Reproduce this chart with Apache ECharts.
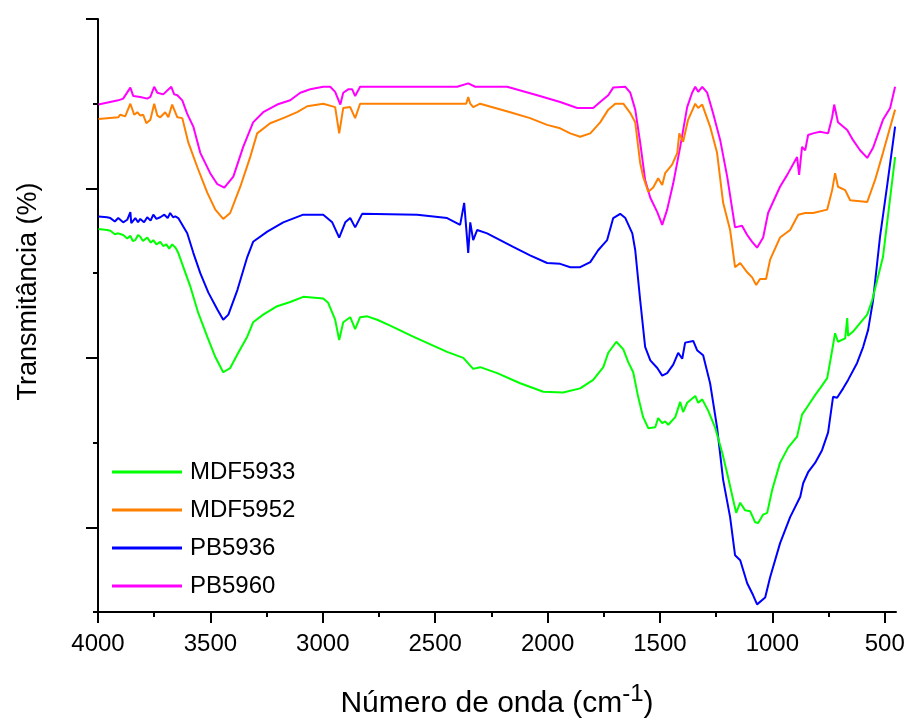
<!DOCTYPE html>
<html>
<head>
<meta charset="utf-8">
<script src="https://cdn.jsdelivr.net/npm/echarts@6/dist/echarts.min.js"></script>
<style>html,body{margin:0;padding:0;background:#fff;overflow:hidden}#c{width:908px;height:718px}</style>
</head>
<body>
<div id="c"></div>
<script>
// Series names (legend order)
const seriesNames = ['MDF5933', 'MDF5952', 'PB5936', 'PB5960'];
const seriesColors = ['#00ff00', '#ff8000', '#0000ff', '#ff00ff'];

// X axis tick labels (wavenumber, cm-1)
const xMajorTicks = [4000, 3500, 3000, 2500, 2000, 1500, 1000, 500];
const xMinorTicks = [3750, 3250, 2750, 2250, 1750, 1250, 750];
// Y axis (unlabelled transmittance scale)
const yMajorTicks = [10, 30, 50, 70];

// [wavenumber, transmittance (arb.)]
const mdf5933 = [[3998,45.2],[3960,45.1],[3945,45.0],[3925,44.6],[3910,44.7],[3888,44.5],[3870,44.1],[3856,44.4],[3845,43.8],[3834,43.9],[3822,44.5],[3812,44.3],[3800,43.8],[3781,44.2],[3765,43.6],[3754,43.9],[3740,43.4],[3723,43.7],[3710,43.2],[3696,43.4],[3683,42.9],[3670,43.4],[3655,43.0],[3643,42.4],[3612,40.1],[3589,38.4],[3554,35.3],[3514,32.5],[3478,30.1],[3443,28.3],[3412,28.8],[3376,30.6],[3336,32.5],[3310,34.2],[3265,35.1],[3203,36.1],[3145,36.6],[3087,37.2],[2998,37.0],[2976,36.5],[2945,34.5],[2927,32.1],[2909,34.2],[2878,34.8],[2856,33.4],[2834,34.8],[2802,34.9],[2758,34.5],[2700,33.8],[2598,32.5],[2447,30.7],[2375,30.0],[2331,28.7],[2300,28.9],[2224,28.2],[2122,27.0],[2019,26.0],[1931,25.9],[1855,26.4],[1797,27.4],[1752,28.9],[1730,30.6],[1694,31.9],[1663,31.0],[1641,29.5],[1619,28.3],[1597,25.4],[1575,23.0],[1552,21.7],[1521,21.8],[1508,22.9],[1490,22.3],[1477,22.5],[1463,22.1],[1432,23.0],[1410,24.8],[1397,23.6],[1379,24.7],[1343,25.5],[1330,24.7],[1312,25.1],[1286,23.8],[1255,21.8],[1223,18.8],[1197,15.9],[1174,13.2],[1161,11.7],[1143,12.9],[1121,12.0],[1099,11.9],[1077,10.6],[1063,10.5],[1041,11.5],[1023,11.7],[1001,14.4],[966,17.6],[930,19.4],[890,20.7],[868,23.3],[845,24.2],[810,25.6],[788,26.4],[756,27.6],[734,30.9],[721,32.9],[708,31.9],[676,32.3],[667,34.7],[663,32.6],[641,33.1],[610,34.1],[578,35.1],[556,36.8],[508,41.9],[454,53.7]];

const mdf5952 = [[3998,58.2],[3910,58.4],[3901,58.7],[3879,58.5],[3856,60.0],[3839,58.7],[3825,59.0],[3812,58.6],[3799,58.7],[3785,57.7],[3767,58.1],[3750,60.0],[3736,58.6],[3723,58.4],[3701,59.0],[3687,58.4],[3670,59.9],[3647,58.4],[3625,58.3],[3598,55.4],[3558,52.5],[3514,49.5],[3478,47.5],[3443,46.4],[3412,47.1],[3367,50.2],[3323,53.7],[3292,56.5],[3234,57.7],[3176,58.3],[3114,59.0],[3069,59.7],[2998,60.0],[2945,59.6],[2927,56.5],[2909,59.5],[2878,59.6],[2856,58.3],[2834,60.0],[2389,60.0],[2362,60.0],[2353,60.8],[2344,60.0],[2331,59.6],[2300,60.0],[2166,59.0],[2078,58.3],[2002,57.5],[1944,57.1],[1899,56.5],[1855,56.1],[1810,56.5],[1766,57.8],[1730,59.3],[1699,60.0],[1663,60.0],[1632,58.9],[1610,57.8],[1588,53.0],[1575,51.4],[1552,49.6],[1530,50.1],[1508,51.2],[1490,50.4],[1477,51.8],[1446,52.8],[1423,54.2],[1414,56.5],[1397,55.5],[1375,58.1],[1343,60.0],[1330,59.5],[1312,59.9],[1277,57.3],[1246,54.2],[1219,48.3],[1188,45.1],[1166,40.7],[1143,41.2],[1112,40.1],[1090,39.5],[1072,38.6],[1055,39.3],[1028,39.3],[1010,41.6],[966,44.2],[921,45.1],[885,46.9],[854,47.1],[819,47.1],[756,47.5],[734,49.8],[721,51.8],[708,50.2],[676,49.8],[654,48.6],[610,48.5],[578,48.4],[543,51.0],[508,54.2],[454,59.3]];

const pb5936 = [[3998,46.7],[3960,46.6],[3945,46.5],[3925,46.1],[3910,46.5],[3888,46.0],[3870,46.3],[3856,47.2],[3852,45.9],[3834,46.5],[3822,46.0],[3812,46.4],[3795,46.0],[3781,46.6],[3766,46.2],[3754,46.9],[3740,46.4],[3723,46.6],[3705,46.9],[3690,46.5],[3679,47.1],[3666,46.6],[3656,46.7],[3643,46.5],[3603,44.7],[3576,42.4],[3545,40.0],[3509,37.7],[3469,35.7],[3443,34.5],[3420,35.1],[3380,38.0],[3336,41.9],[3310,43.7],[3247,44.9],[3176,46.0],[3087,46.9],[2998,46.9],[2958,46.0],[2927,44.2],[2900,46.0],[2878,46.5],[2856,45.4],[2825,47.0],[2580,46.9],[2447,46.5],[2389,45.7],[2371,48.3],[2353,42.4],[2344,46.0],[2331,43.9],[2313,45.1],[2269,44.7],[2153,43.1],[2078,42.1],[2002,41.2],[1944,41.1],[1899,40.7],[1855,40.7],[1810,41.3],[1775,42.7],[1752,43.4],[1735,43.9],[1708,46.5],[1677,47.0],[1654,46.5],[1623,44.7],[1610,42.7],[1588,36.8],[1566,31.3],[1543,29.7],[1512,28.8],[1490,27.9],[1468,28.2],[1441,29.2],[1419,30.6],[1401,29.9],[1388,31.8],[1352,32.0],[1335,30.9],[1308,30.3],[1277,27.0],[1246,21.8],[1219,15.6],[1188,11.2],[1166,6.7],[1143,6.1],[1112,3.4],[1086,2.0],[1068,0.9],[1032,1.7],[1010,4.1],[966,8.1],[921,11.2],[876,13.6],[863,15.2],[841,16.5],[810,17.6],[779,19.1],[752,21.2],[730,25.4],[712,25.3],[685,26.4],[663,27.4],[623,29.4],[596,31.3],[574,33.3],[552,36.8],[521,44.3],[490,50.2],[454,57.3]];

const pb5960 = [[3998,59.9],[3910,60.4],[3888,60.6],[3856,61.9],[3843,60.9],[3812,60.8],[3781,60.6],[3767,60.8],[3750,62.0],[3736,61.3],[3710,61.1],[3674,62.0],[3661,61.1],[3647,61.0],[3625,60.4],[3603,58.8],[3576,57.3],[3545,54.2],[3501,51.8],[3469,50.5],[3438,50.1],[3398,51.4],[3354,54.9],[3310,57.8],[3265,59.0],[3203,59.9],[3145,60.4],[3100,61.3],[3056,61.7],[2998,62.0],[2967,62.0],[2945,61.4],[2922,59.9],[2909,61.3],[2887,61.7],[2869,61.7],[2856,60.9],[2834,62.0],[2700,62.0],[2402,62.0],[2353,62.4],[2322,62.0],[2180,62.0],[2046,61.0],[1944,60.2],[1868,59.5],[1797,59.5],[1757,60.4],[1730,61.0],[1708,61.9],[1654,62.0],[1632,61.3],[1610,59.3],[1588,55.4],[1566,51.0],[1543,48.9],[1512,47.2],[1490,45.7],[1468,47.5],[1441,50.6],[1410,54.9],[1379,59.6],[1357,61.3],[1343,62.0],[1330,61.4],[1312,62.0],[1290,61.3],[1264,58.9],[1232,55.7],[1201,51.4],[1166,45.4],[1135,45.6],[1112,44.5],[1090,43.7],[1068,43.0],[1041,44.2],[1019,47.1],[997,48.4],[966,50.2],[934,51.6],[890,53.7],[881,51.6],[868,54.9],[854,54.5],[841,56.3],[819,56.5],[788,56.7],[752,56.5],[734,58.4],[725,59.9],[708,57.8],[667,56.9],[641,55.7],[610,54.5],[578,53.6],[552,54.8],[508,58.1],[476,59.5],[454,62.0]];

const seriesData = [mdf5933, mdf5952, pb5936, pb5960];

const FONT = 'Liberation Sans, Arial, sans-serif';
const chart = echarts.init(document.getElementById('c'), null, {renderer: 'canvas'});
const axisLineStyle = {color: '#000', width: 2};

chart.setOption({
  animation: false,
  backgroundColor: '#fff',
  textStyle: {fontFamily: FONT},
  grid: {left: 98, right: 12, top: 19, bottom: 106, containLabel: false, outerBoundsMode: 'none'},
  legend: {
    orient: 'vertical',
    left: 112,
    top: 460,
    padding: 0,
    icon: 'rect',
    itemWidth: 70,
    itemHeight: 3,
    itemGap: 14,
    data: seriesNames,
    textStyle: {fontFamily: FONT, fontSize: 24, color: '#000', lineHeight: 24, padding: [0, 0, 0, 3]}
  },
  xAxis: [{
    type: 'value', inverse: true, min: 450, max: 4000,
    position: 'bottom',
    splitLine: {show: false},
    axisLine: {show: true, onZero: false, lineStyle: axisLineStyle},
    axisTick: {show: true, inside: false, length: 11, lineStyle: {color: '#000', width: 2}, customValues: xMajorTicks},
    axisLabel: {show: true, fontSize: 24, color: '#000', fontFamily: FONT, margin: 20, customValues: xMajorTicks,
      formatter: function (v) { return String(v); }},
    name: 'Número de onda (cm{sup|-1})',
    nameLocation: 'middle',
    nameGap: 70,
    nameTextStyle: {
      fontFamily: FONT, fontSize: 30, color: '#000', lineHeight: 44,
      rich: {sup: {fontFamily: FONT, fontSize: 24, color: '#000', lineHeight: 20, verticalAlign: 'top'}}
    }
  }, {
    type: 'value', inverse: true, min: 450, max: 4000,
    position: 'bottom',
    splitLine: {show: false},
    axisLine: {show: false, onZero: false},
    axisTick: {show: true, inside: false, length: 5, lineStyle: {color: '#000', width: 2}, customValues: xMinorTicks},
    axisLabel: {show: false}
  }],
  yAxis: [{
    type: 'value', min: 0, max: 70, interval: 10,
    position: 'left',
    splitLine: {show: false},
    axisLine: {show: true, onZero: false, lineStyle: axisLineStyle},
    axisTick: {show: true, inside: false, length: 5, lineStyle: {color: '#000', width: 2}},
    axisLabel: {show: false},
    name: 'Transmitância (%)',
    nameLocation: 'middle',
    nameGap: 56,
    nameTextStyle: {fontFamily: FONT, fontSize: 27, color: '#000', padding: [0, 0, 0, 48]}
  }, {
    type: 'value', min: 0, max: 70,
    position: 'left',
    splitLine: {show: false},
    axisLine: {show: false, onZero: false},
    axisTick: {show: true, inside: false, length: 12, lineStyle: {color: '#000', width: 2}, customValues: yMajorTicks},
    axisLabel: {show: false}
  }],
  series: seriesNames.map((name, i) => ({
    name: name,
    type: 'line',
    xAxisIndex: 0,
    yAxisIndex: 0,
    data: seriesData[i],
    showSymbol: false,
    symbol: 'none',
    smooth: false,
    color: seriesColors[i],
    lineStyle: {color: seriesColors[i], width: 2},
    z: 10 - i
  }))
});
</script>
</body>
</html>
